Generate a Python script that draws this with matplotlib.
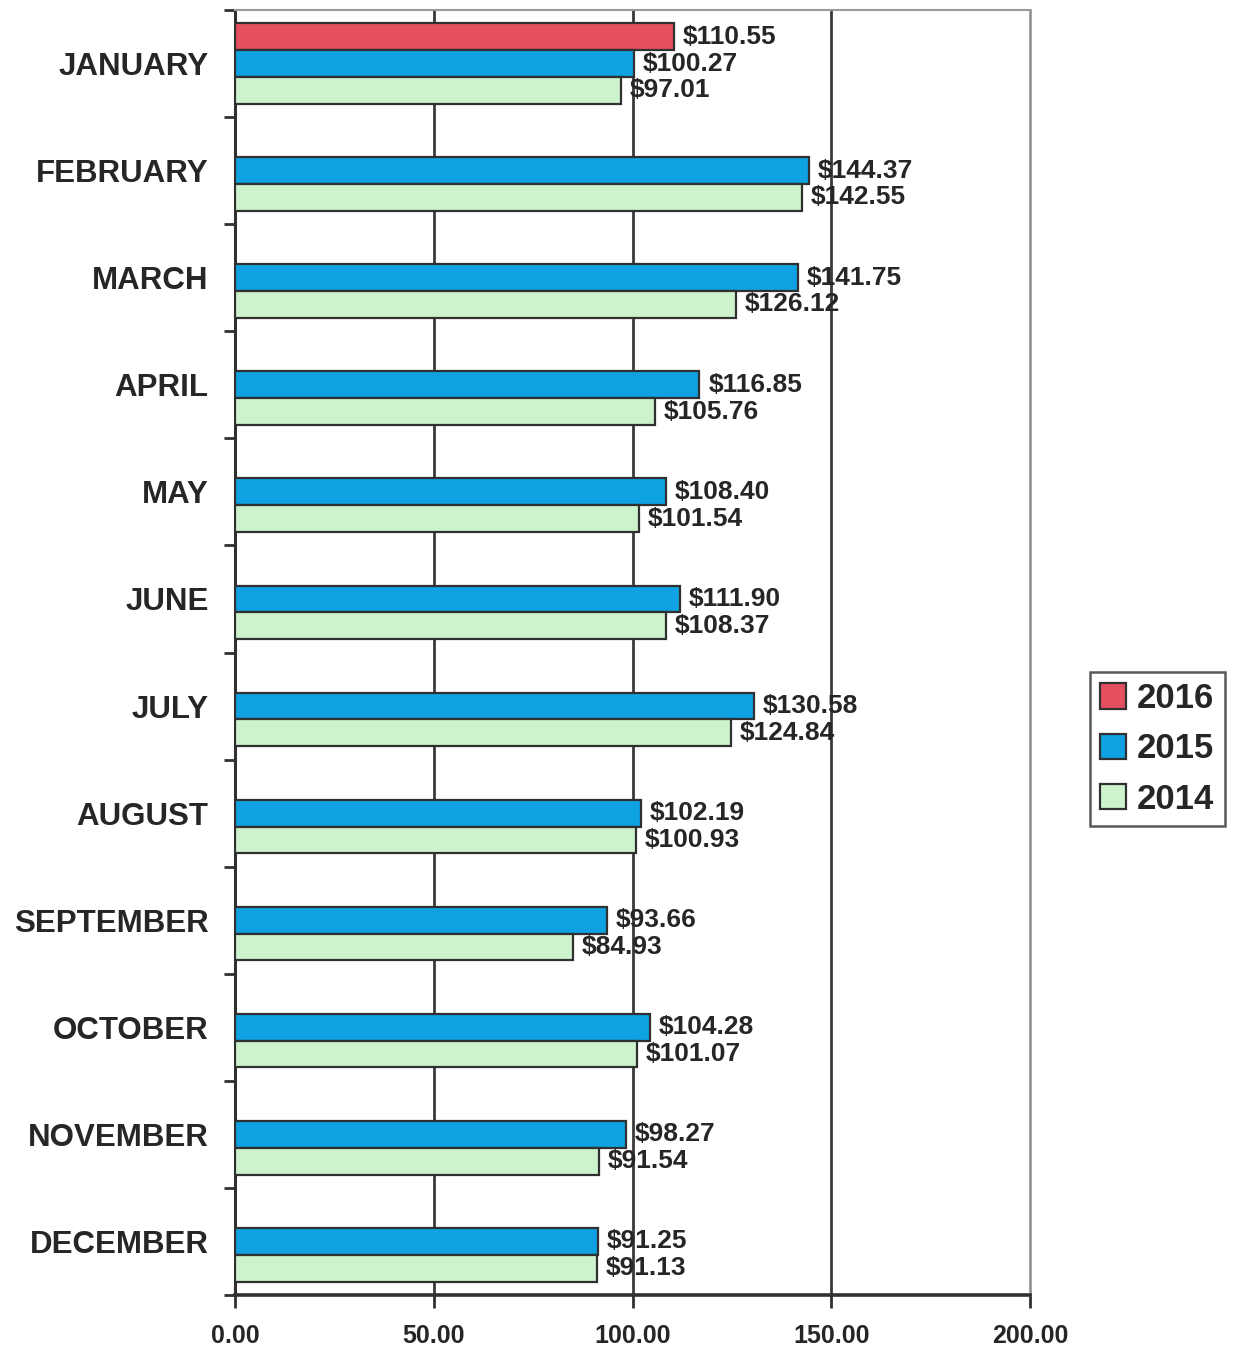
import matplotlib
matplotlib.use("Agg")
import matplotlib.pyplot as plt
import numpy as np

plt.rcParams['font.family'] = ['Liberation Sans', 'DejaVu Sans']

months = ["JANUARY", "FEBRUARY", "MARCH", "APRIL", "MAY", "JUNE", "JULY",
          "AUGUST", "SEPTEMBER", "OCTOBER", "NOVEMBER", "DECEMBER"]
series_names = ["2016", "2015", "2014"]
values_2016 = [110.55, None, None, None, None, None, None, None, None, None, None, None]
values_2015 = [100.27, 144.37, 141.75, 116.85, 108.40, 111.90, 130.58, 102.19, 93.66, 104.28, 98.27, 91.25]
values_2014 = [97.01, 142.55, 126.12, 105.76, 101.54, 108.37, 124.84, 100.93, 84.93, 101.07, 91.54, 91.13]
x_ticks = [0, 50, 100, 150, 200]
x_tick_labels = ["0.00", "50.00", "100.00", "150.00", "200.00"]

colors = ["#E4505F", "#0FA2E2", "#CDF3CD"]
text_color = "#262626"

fig = plt.figure(figsize=(12.33, 13.48), dpi=100)
ax = fig.add_axes([235/1233, 1 - 1295/1348, (1030 - 235)/1233, (1295 - 10)/1348])

bh = 0.25
offsets = [-bh, 0.0, bh]
handles = []
for name, vals, col, off in zip(series_names, [values_2016, values_2015, values_2014], colors, offsets):
    idx = [i for i, v in enumerate(vals) if v is not None]
    w = [vals[i] for i in idx]
    y = [i + off for i in idx]
    bars = ax.barh(y, w, height=bh, color=col, edgecolor="#303030", linewidth=1.6, label=name, zorder=3)
    handles.append(bars)
    for yi, wi in zip(y, w):
        ax.text(wi + 2.2, yi, f"${wi:.2f}", va="center", ha="left", fontsize=19,
                fontweight="bold", color=text_color, zorder=4)

ax.set_xlim(0, 200)
ax.set_ylim(11.5, -0.5)

ax.set_xticks(x_ticks)
ax.set_xticklabels(x_tick_labels, fontsize=18, fontweight="bold", color=text_color)
ax.tick_params(axis="x", direction="out", length=9, width=2, color="#303030", pad=12)

ax.set_yticks(np.arange(len(months)))
ax.set_yticklabels(months, fontsize=22.5, fontweight="bold", color=text_color)
ax.tick_params(axis="y", which="major", length=0, pad=19)
ax.set_yticks(np.arange(len(months) + 1) - 0.5, minor=True)
ax.tick_params(axis="y", which="minor", direction="out", length=8, width=2, color="#303030")

for xv in [50, 100, 150]:
    ax.axvline(xv, color="#3a3a3a", linewidth=2, zorder=1)

ax.spines["left"].set_color("#303030")
ax.spines["left"].set_linewidth(2.2)
ax.spines["bottom"].set_color("#303030")
ax.spines["bottom"].set_linewidth(2.6)
ax.spines["top"].set_color("#9a9a9a")
ax.spines["top"].set_linewidth(1.5)
ax.spines["right"].set_color("#8a8a8a")
ax.spines["right"].set_linewidth(1.8)

leg = fig.legend(handles=handles, labels=series_names, loc="center left",
                 bbox_to_anchor=(1090/1233, 1 - 749/1348),
                 prop={"weight": "bold", "size": 25}, frameon=True, fancybox=False,
                 edgecolor="#303030", handlelength=0.75, handleheight=0.75,
                 handletextpad=0.3, borderpad=0.3, labelspacing=0.5, borderaxespad=0)
leg.get_frame().set_linewidth(1.8)
for t in leg.get_texts():
    t.set_color(text_color)

fig.savefig("out.png", dpi=100, facecolor="white")
